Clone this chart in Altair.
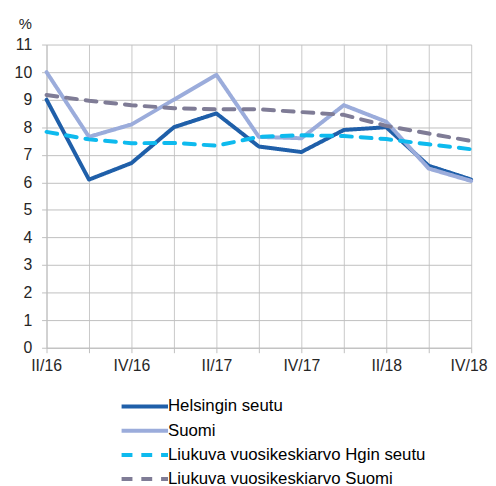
import altair as alt
import pandas as pd

quarters = ["II/16", "III/16", "IV/16", "I/17", "II/17", "III/17", "IV/17",
            "I/18", "II/18", "III/18", "IV/18"]
shown_labels = ["II/16", "IV/16", "II/17", "IV/17", "II/18", "IV/18"]

series_names = ["Helsingin seutu", "Suomi",
                "Liukuva vuosikeskiarvo Hgin seutu",
                "Liukuva vuosikeskiarvo Suomi"]
helsinki = [9.0, 6.1, 6.7, 8.0, 8.5, 7.3, 7.1, 7.9, 8.0, 6.6, 6.1]
suomi = [10.0, 7.65, 8.1, 9.0, 9.9, 7.65, 7.6, 8.8, 8.2, 6.5, 6.05]
ma_hki = [7.83, 7.56, 7.42, 7.43, 7.33, 7.65, 7.71, 7.68, 7.57, 7.38, 7.2]
ma_suomi = [9.17, 8.96, 8.8, 8.69, 8.65, 8.65, 8.55, 8.45, 8.05, 7.77, 7.5]

colors = ["#1F5FA9", "#9BACDB", "#0EBAEE", "#7F7C96"]
dashes = [[1, 0], [1, 0], [11, 9], [11, 9]]

rows = []
for name, vals in zip(series_names, [helsinki, suomi, ma_hki, ma_suomi]):
    for q, v in zip(quarters, vals):
        rows.append({"quarter": q, "value": v, "series": name})
df = pd.DataFrame(rows)

font = "Liberation Sans"
label_expr = "indexof(" + str(shown_labels) + ", datum.value) >= 0 ? datum.value : ''"

legend_opts = dict(title=None, orient="none", legendX=91, legendY=358,
                   direction="vertical", symbolType="M-23.5,0H23.5", symbolSize=4,
                   symbolStrokeWidth=4, labelOffset=15, labelFont=font,
                   labelFontSize=17, labelColor="#000000", rowPadding=6.5,
                   padding=0, labelLimit=400)

chart = alt.Chart(df).mark_line(strokeWidth=4, strokeCap="round", strokeJoin="round").encode(
    x=alt.X("quarter:N", sort=quarters, scale=alt.Scale(type="point", padding=0),
            axis=alt.Axis(title=None, labelAngle=0, labelExpr=label_expr,
                          labelFont=font, labelFontSize=16, labelColor="#262626",
                          labelPadding=5, tickSize=5, tickColor="#BFBFBF",
                          labelFlush=True, labelFlushOffset=16,
                          domainColor="#BFBFBF", gridColor="#C8C8C8", grid=True)),
    y=alt.Y("value:Q", scale=alt.Scale(domain=[0, 11], nice=False),
            axis=alt.Axis(values=list(range(0, 12)), title="%", titleAngle=0,
                          titleX=-22, titleY=-21, titleAlign="center",
                          titleBaseline="middle", titleFont=font,
                          titleFontSize=15, titleFontWeight="normal",
                          titleColor="#262626",
                          labelFont=font, labelFontSize=16, labelColor="#262626",
                          labelPadding=10, tickSize=5, tickColor="#BFBFBF",
                          domainColor="#BFBFBF", gridColor="#BFBFBF")),
    color=alt.Color("series:N", sort=series_names,
                    scale=alt.Scale(domain=series_names, range=colors),
                    legend=alt.Legend(**legend_opts)),
    strokeDash=alt.StrokeDash("series:N", sort=series_names,
                              scale=alt.Scale(domain=series_names, range=dashes),
                              legend=alt.Legend(**legend_opts)),
).properties(
    width=430, height=307,
    autosize=alt.AutoSizeParams(type="none"),
    padding={"left": 39, "top": 34, "right": 17, "bottom": 137},
).configure_view(stroke=None)

chart.save("out.html", embed_options={"renderer": "svg", "actions": False})
